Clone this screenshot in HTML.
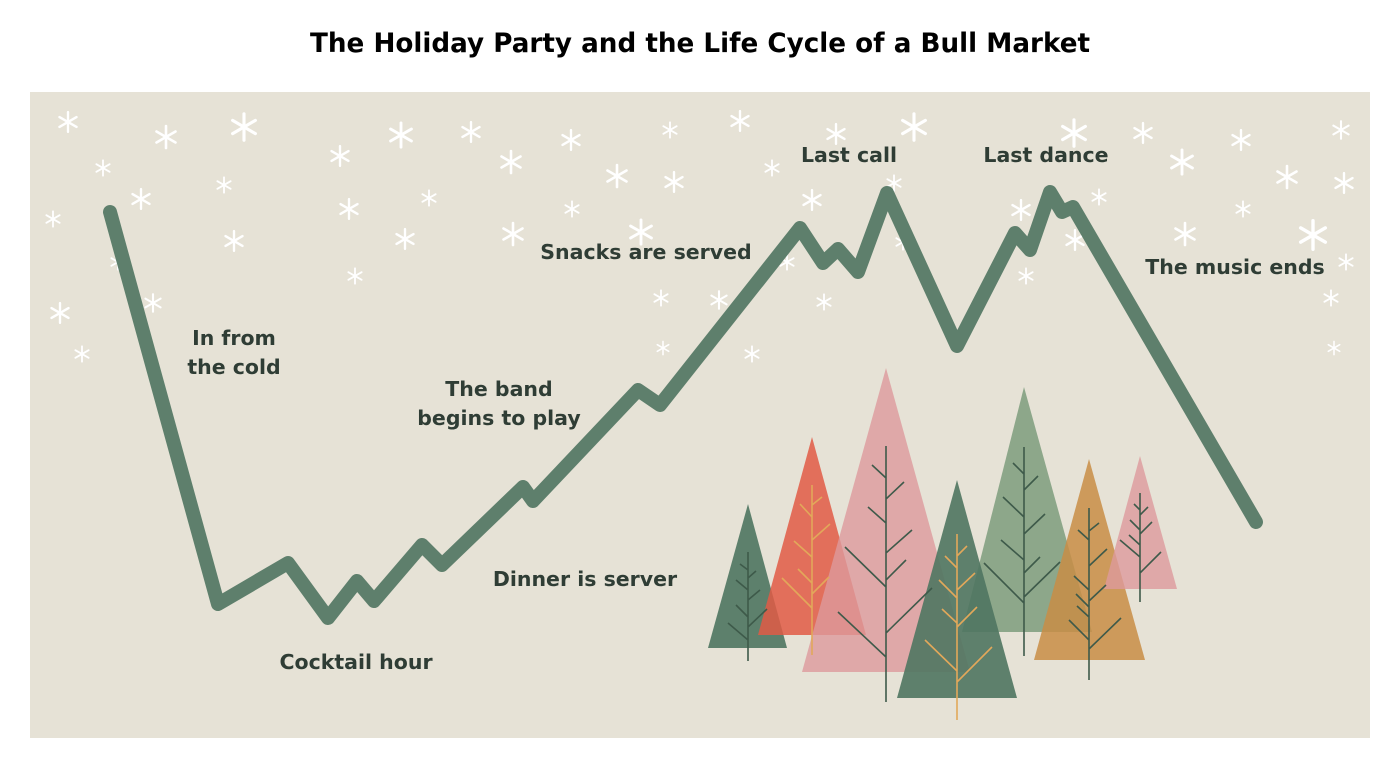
<!DOCTYPE html>
<html><head><meta charset="utf-8"><style>
body{margin:0;background:#fff;width:1400px;height:765px;overflow:hidden}
</style></head><body>
<svg width="1400" height="765" viewBox="0 0 1400 765" xmlns="http://www.w3.org/2000/svg">
<defs>
<g id="s" stroke="#fff" stroke-width="2.6" stroke-linecap="round"><line x1="0" y1="-11" x2="0" y2="11"/><line x1="-9.5" y1="-5.5" x2="9.5" y2="5.5"/><line x1="-9.5" y1="5.5" x2="9.5" y2="-5.5"/></g>
</defs>
<text x="700" y="52" text-anchor="middle" font-family="DejaVu Sans, sans-serif" font-weight="bold" font-size="27" fill="#000" textLength="780" lengthAdjust="spacingAndGlyphs">The Holiday Party and the Life Cycle of a Bull Market</text>
<rect x="30" y="92" width="1340" height="646" fill="#e6e2d6"/>
<g>
<use href="#s" transform="translate(68,122) scale(0.9)"/><use href="#s" transform="translate(103,168) scale(0.7)"/><use href="#s" transform="translate(166,137) scale(1)"/><use href="#s" transform="translate(244,127) scale(1.2)"/><use href="#s" transform="translate(224,185) scale(0.7)"/><use href="#s" transform="translate(141,199) scale(0.9)"/><use href="#s" transform="translate(53,219) scale(0.7)"/><use href="#s" transform="translate(234,241) scale(0.9)"/><use href="#s" transform="translate(118,262) scale(0.7)"/><use href="#s" transform="translate(153,303) scale(0.8)"/><use href="#s" transform="translate(60,313) scale(0.9)"/><use href="#s" transform="translate(82,354) scale(0.7)"/><use href="#s" transform="translate(340,156) scale(0.9)"/><use href="#s" transform="translate(401,135) scale(1.1)"/><use href="#s" transform="translate(349,209) scale(0.9)"/><use href="#s" transform="translate(405,239) scale(0.9)"/><use href="#s" transform="translate(429,198) scale(0.7)"/><use href="#s" transform="translate(355,276) scale(0.7)"/><use href="#s" transform="translate(471,132) scale(0.9)"/><use href="#s" transform="translate(511,162) scale(1)"/><use href="#s" transform="translate(571,140) scale(0.9)"/><use href="#s" transform="translate(617,176) scale(1)"/><use href="#s" transform="translate(670,130) scale(0.7)"/><use href="#s" transform="translate(674,182) scale(0.9)"/><use href="#s" transform="translate(740,121) scale(0.9)"/><use href="#s" transform="translate(772,168) scale(0.7)"/><use href="#s" transform="translate(812,200) scale(0.9)"/><use href="#s" transform="translate(572,209) scale(0.7)"/><use href="#s" transform="translate(513,234) scale(1)"/><use href="#s" transform="translate(641,232) scale(1.1)"/><use href="#s" transform="translate(661,298) scale(0.7)"/><use href="#s" transform="translate(663,348) scale(0.6)"/><use href="#s" transform="translate(719,300) scale(0.8)"/><use href="#s" transform="translate(752,354) scale(0.7)"/><use href="#s" transform="translate(824,302) scale(0.7)"/><use href="#s" transform="translate(836,134) scale(0.9)"/><use href="#s" transform="translate(914,127) scale(1.2)"/><use href="#s" transform="translate(894,183) scale(0.7)"/><use href="#s" transform="translate(1074,133) scale(1.2)"/><use href="#s" transform="translate(1143,133) scale(0.9)"/><use href="#s" transform="translate(1182,162) scale(1.1)"/><use href="#s" transform="translate(1241,140) scale(0.9)"/><use href="#s" transform="translate(1341,130) scale(0.8)"/><use href="#s" transform="translate(1287,177) scale(1)"/><use href="#s" transform="translate(1344,183) scale(0.9)"/><use href="#s" transform="translate(1243,209) scale(0.7)"/><use href="#s" transform="translate(1185,234) scale(1)"/><use href="#s" transform="translate(1313,235) scale(1.3)"/><use href="#s" transform="translate(1346,262) scale(0.7)"/><use href="#s" transform="translate(1099,197) scale(0.7)"/><use href="#s" transform="translate(1021,210) scale(0.9)"/><use href="#s" transform="translate(1026,276) scale(0.7)"/><use href="#s" transform="translate(1075,240) scale(0.9)"/><use href="#s" transform="translate(1331,298) scale(0.7)"/><use href="#s" transform="translate(1334,348) scale(0.6)"/><use href="#s" transform="translate(787,262) scale(0.7)"/><use href="#s" transform="translate(903,242) scale(0.7)"/>
</g>
<g font-family="DejaVu Sans, sans-serif" font-weight="bold" font-size="20.5" fill="#2f3d35" text-anchor="middle">
<text x="234" y="345">In from</text><text x="234" y="374">the cold</text>
<text x="499" y="396">The band</text><text x="499" y="425">begins to play</text>
<text x="356" y="669">Cocktail hour</text>
<text x="585" y="586">Dinner is server</text>
<text x="646" y="259">Snacks are served</text>
<text x="849" y="162">Last call</text>
<text x="1046" y="162">Last dance</text>
<text x="1235" y="274">The music ends</text>
</g>
<polyline points="110,212 218,604 288,563 328,618 357,581 374,601 422,545 442,565 523,487 533,501 638,390 660,405 800,228 823,263 838,249 858,272 887,193 957,346 1015,233 1030,250 1050,192 1062,212 1073,207 1256,522" fill="none" stroke="#5e7f6c" stroke-width="14" stroke-linejoin="round" stroke-linecap="round"/>
<g>
<polygon points="748,504 708,648 787,648" fill="#557a66" opacity="0.95"/>
<polygon points="812,437 758,635 866,635" fill="#e05a45" opacity="0.85"/>
<polygon points="886,368 802,672 970,672" fill="#dd9a9c" opacity="0.8"/>
<polygon points="1024,387 962,632 1092,632" fill="#7c9c7c" opacity="0.85"/>
<polygon points="957,480 897,698 1017,698" fill="#4f7560" opacity="0.9"/>
<polygon points="1089,459 1034,660 1145,660" fill="#c88d45" opacity="0.85"/>
<polygon points="1140,456 1104,589 1177,589" fill="#dd9a9c" opacity="0.8"/>
</g>
<g stroke="#3e5a4a" stroke-width="1.6" fill="none">
<path d="M748 552V661M748 570l-8-6M748 578l8-7M748 590l-12-10M748 600l12-10M748 617l-12-12M748 627l19-18M748 640l-20-17"/>
<path d="M886 446V702M886 478l-14-13M886 499l18-17M886 523l-18-16M886 553l26-23M886 587l-41-40M886 580l20-20M886 633l46-45M886 657l-48-45"/>
<path d="M1024 447V656M1024 474l-11-11M1024 490l14-14M1024 517l-21-20M1024 534l21-20M1024 560l-23-20M1024 573l16-16M1024 603l-40-40M1024 597l36-35"/>
<path d="M1089 508V680M1089 531l10-8M1089 540l-11-10M1089 566l18-17M1089 590l-15-14M1089 617l-12-11M1089 607l-13-13M1089 601l17-16M1089 640l-20-20M1089 649l32-31"/>
<path d="M1140 493V602M1140 510l-6-6M1140 515l8-8M1140 530l-10-10M1140 534l12-12M1140 545l-11-10M1140 557l-20-17M1140 573l21-21"/>
</g>
<g stroke="#e2a85a" stroke-width="1.6" fill="none">
<path d="M812 485V655M812 505l10-8M812 517l-12-13M812 540l18-16M812 557l-18-16M812 583l-14-14M812 594l17-17M812 608l-30-30"/>
<path d="M957 534V720M957 556l10-10M957 568l-12-12M957 598l-18-18M957 590l18-17M957 623l-15-14M957 627l20-20M957 671l-32-31M957 682l35-35"/>
</g>
</svg>
</body></html>
